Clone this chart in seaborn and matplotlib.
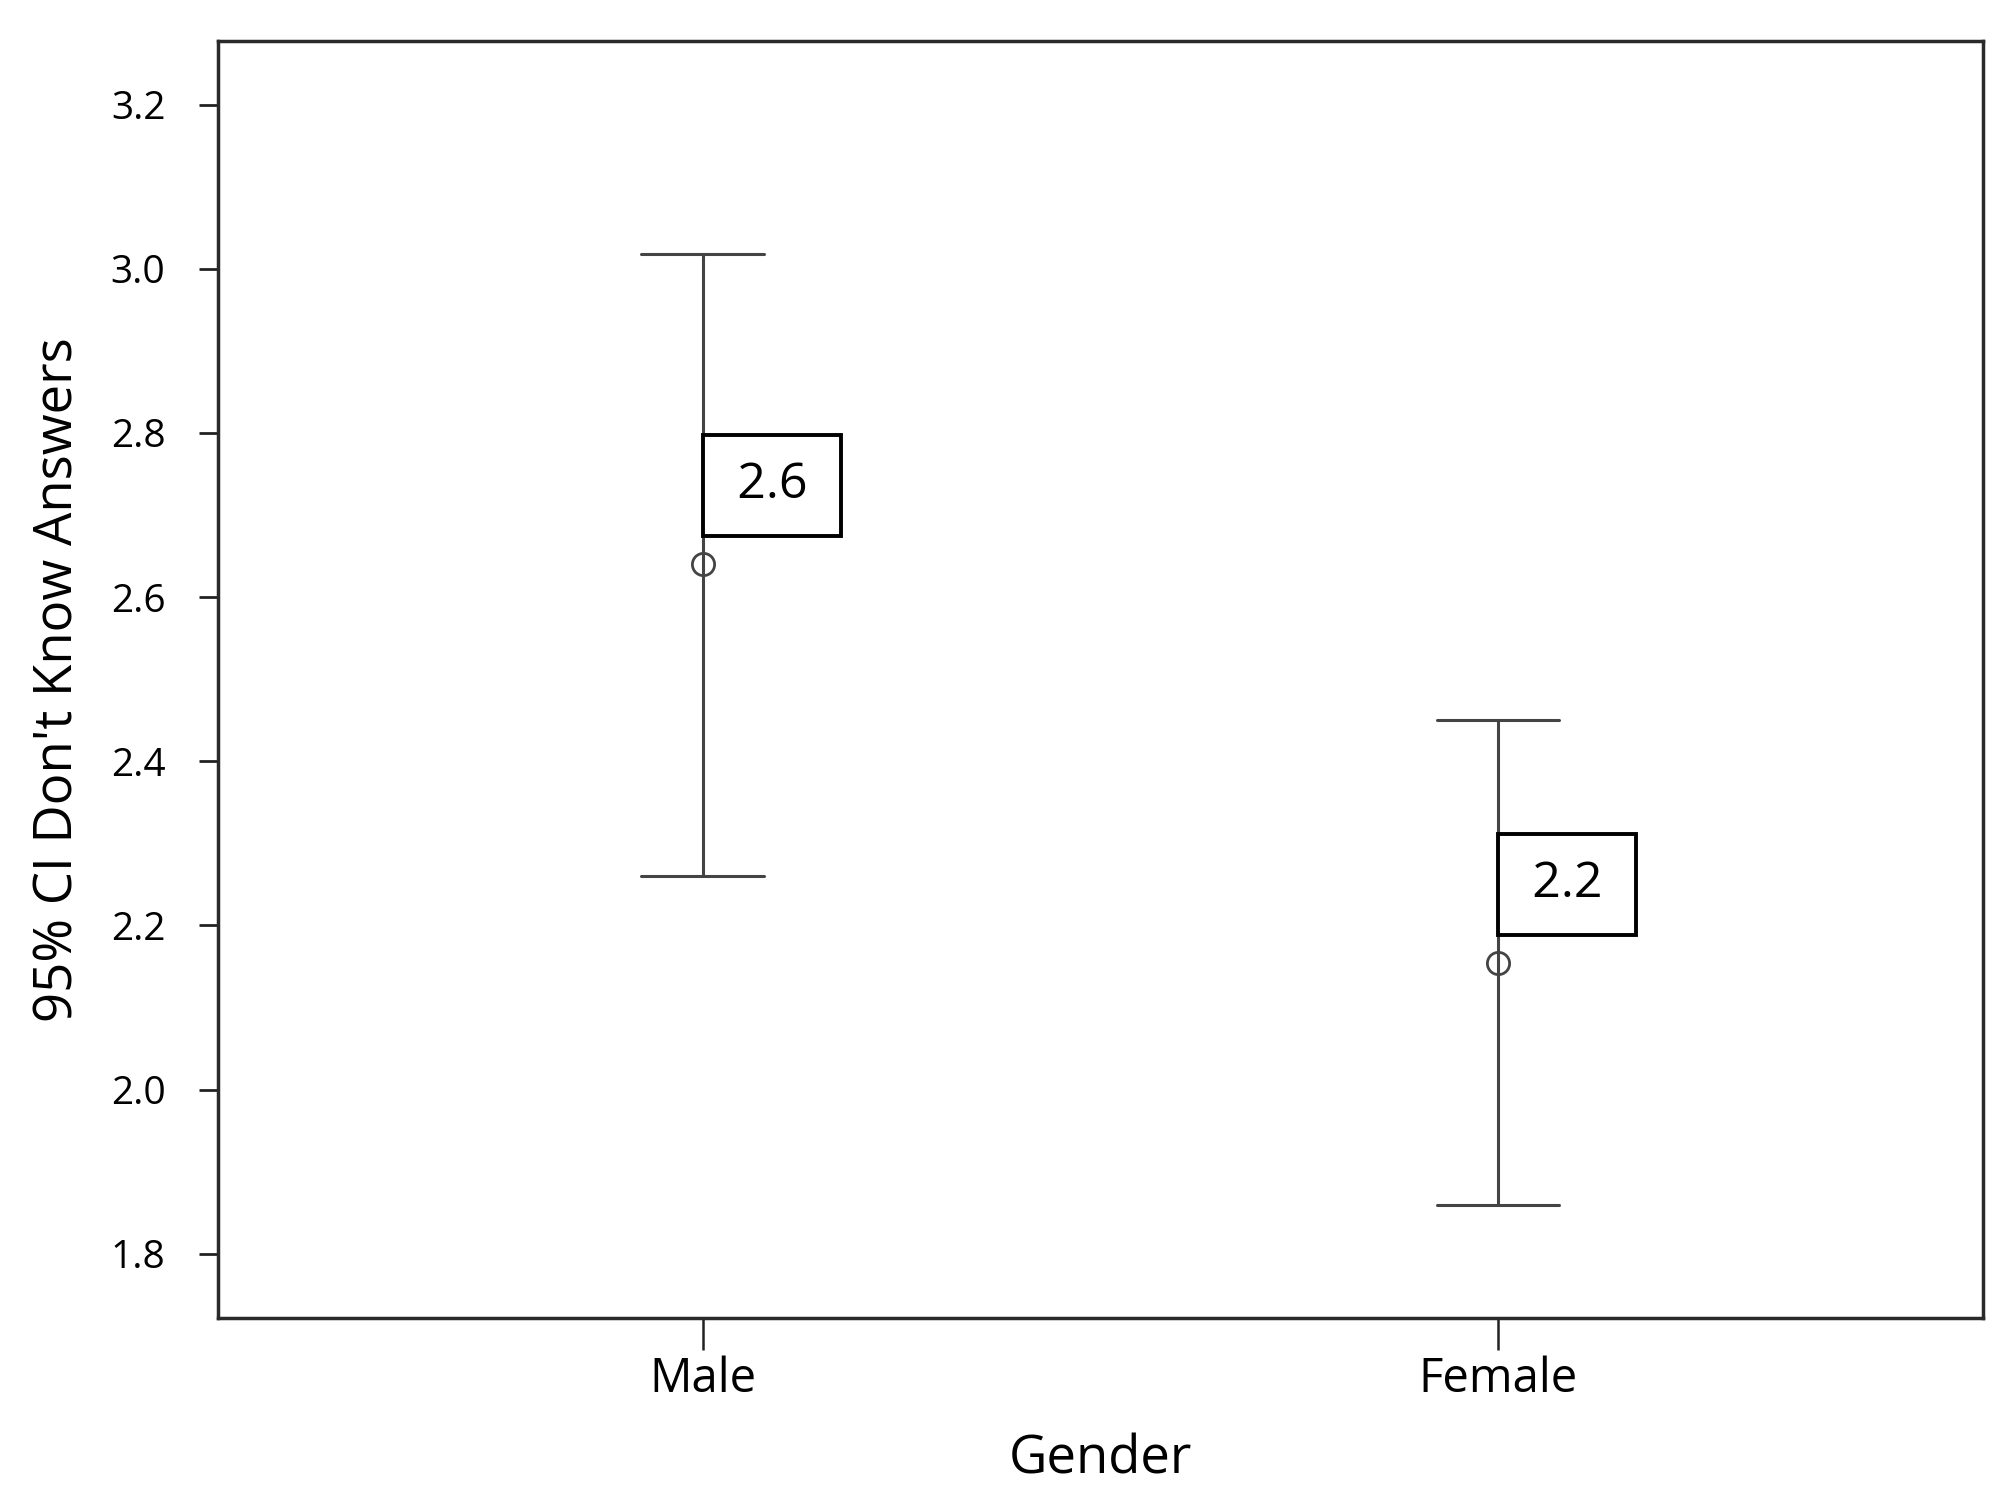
import pandas as pd
import numpy as np
import matplotlib
matplotlib.use("Agg")
import matplotlib.pyplot as plt
import seaborn as sns

# 95% CI of "don't know" answers by gender
genders = ["Male", "Female"]
means = [2.64, 2.154]
ci_low = [2.26, 1.86]
ci_high = [3.018, 2.45]
box_labels = ["2.6", "2.2"]
yticks = [1.8, 2.0, 2.2, 2.4, 2.6, 2.8, 3.0, 3.2]

# long table: lo / mean / hi per group, median gives the mean, min-max gives the CI
rows = []
for g, lo, m, hi in zip(genders, ci_low, means, ci_high):
    for v in (lo, m, hi):
        rows.append({"Gender": g, "value": v})
df = pd.DataFrame(rows)

sns.set_style("ticks")
plt.rcParams["font.family"] = ["Open Sans", "DejaVu Sans"]
plt.rcParams["text.color"] = "black"
plt.rcParams["axes.labelcolor"] = "black"
plt.rcParams["xtick.color"] = "black"
plt.rcParams["ytick.color"] = "black"

fig = plt.figure(figsize=(20.15, 15.01), dpi=100)
ax = fig.add_axes([0.108, 0.122, 0.876, 0.851])

line_col = "#444444"
sns.pointplot(data=df, x="Gender", y="value", order=genders,
              estimator="median", errorbar=lambda v: (v.min(), v.max()),
              capsize=0.154, linestyle="none", marker="o", markersize=16,
              markerfacecolor="white", markeredgecolor=line_col,
              markeredgewidth=2.0, color=line_col,
              err_kws={"linewidth": 2.2, "color": line_col}, ax=ax)

fs = 36
pad = 0.52
for i, (m, lab) in enumerate(zip(means, box_labels)):
    ax.annotate("\u2009" + lab + "\u2009", xy=(i, m),
                xytext=(pad * fs, 20 + pad * fs), textcoords="offset points",
                ha="left", va="bottom", fontsize=fs, color="black", zorder=5,
                bbox=dict(boxstyle=f"square,pad={pad}", fc="white", ec="black", lw=2.8))

ax.set_xlim(-0.61, 1.61)
ax.set_ylim(1.722, 3.278)
ax.set_yticks(yticks)
ax.set_yticklabels([f"{t:.1f}" for t in yticks])

for s in ax.spines.values():
    s.set_visible(True)
    s.set_color("#2a2a2a")
    s.set_linewidth(2.5)

ax.tick_params(axis="y", length=13.5, width=2, color="#222222", labelsize=28, pad=24)
ax.tick_params(axis="x", length=23, width=1.8, color="#222222", labelsize=34, pad=4)

ax.set_xlabel("Gender", fontsize=38, labelpad=22)
ax.set_ylabel("95% CI Don't Know Answers", fontsize=38, labelpad=18)

fig.savefig("out.png", dpi=100, facecolor="white")
